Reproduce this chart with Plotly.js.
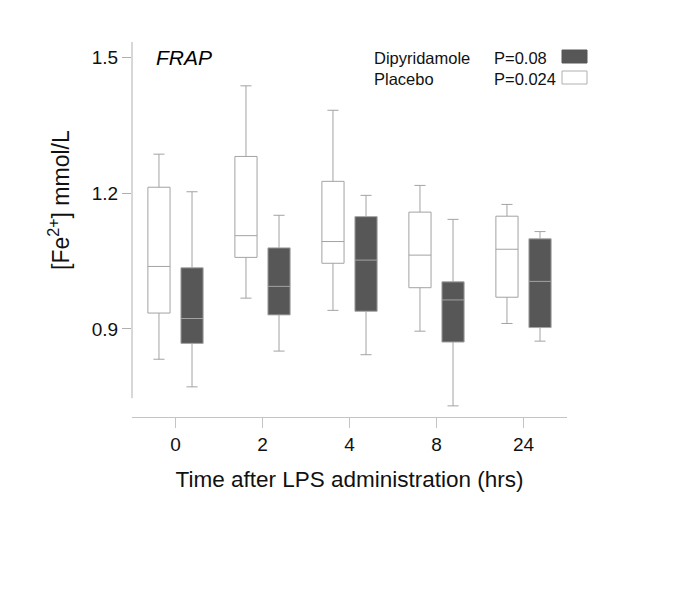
<!DOCTYPE html>
<html>
<head>
<meta charset="utf-8">
<script src="https://cdn.plot.ly/plotly-3.0.1.min.js"></script>
<style>html,body{margin:0;padding:0;background:#fff;}#chart{width:685px;height:597px;}</style>
</head>
<body>
<div id="chart"></div>
<script>
// Categories (time after LPS, hrs)
const timeLabels = ['0', '2', '4', '8', '24'];

// Placebo box statistics
const placeboLower  = [0.833, 0.968, 0.941, 0.895, 0.912];
const placeboQ1     = [0.935, 1.058, 1.045, 0.991, 0.970];
const placeboMedian = [1.038, 1.106, 1.093, 1.063, 1.076];
const placeboQ3     = [1.213, 1.281, 1.226, 1.158, 1.149];
const placeboUpper  = [1.286, 1.437, 1.383, 1.217, 1.175];

// Dipyridamole box statistics
const dipyLower  = [0.772, 0.851, 0.843, 0.730, 0.873];
const dipyQ1     = [0.868, 0.931, 0.939, 0.871, 0.903];
const dipyMedian = [0.923, 0.994, 1.052, 0.964, 1.005];
const dipyQ3     = [1.035, 1.079, 1.148, 1.004, 1.099];
const dipyUpper  = [1.203, 1.151, 1.195, 1.142, 1.115];

const yTicks = [0.9, 1.2, 1.5];
const legendNames = ['Dipyridamole', 'Placebo'];
const legendP = ['P=0.08', 'P=0.024'];

const FONT = 'Arial, "Liberation Sans", sans-serif';
const LINE = '#a3a3a3';
const DARK = '#575757';

const traces = [
  {
    type: 'box', name: 'Placebo', x: timeLabels,
    q1: placeboQ1, median: placeboMedian, q3: placeboQ3,
    lowerfence: placeboLower, upperfence: placeboUpper,
    fillcolor: '#ffffff', line: {color: LINE, width: 1},
    whiskerwidth: 0.5, boxpoints: false, showlegend: false, hoverinfo: 'skip'
  },
  {
    type: 'box', name: 'Dipyridamole', x: timeLabels,
    q1: dipyQ1, median: dipyMedian, q3: dipyQ3,
    lowerfence: dipyLower, upperfence: dipyUpper,
    fillcolor: DARK, line: {color: LINE, width: 1},
    whiskerwidth: 0.5, boxpoints: false, showlegend: false, hoverinfo: 'skip'
  }
];

const yTop = 1.5338, yBottom = 0.7054, yLineBottom = 0.747;

const layout = {
  width: 685, height: 597,
  margin: {l: 132, r: 118, t: 42, b: 180},
  paper_bgcolor: '#fff', plot_bgcolor: '#fff',
  boxmode: 'group', boxgap: 0.24, boxgroupgap: 0.33,
  font: {family: FONT, color: '#000'},
  xaxis: {
    type: 'category', range: [-0.5, 4.5],
    showline: true, linecolor: '#c4c4c4', linewidth: 1,
    ticks: 'outside', ticklen: 10, tickcolor: '#c4c4c4', tickwidth: 1,
    tickfont: {size: 19, family: FONT, color: '#111'},
    showgrid: false, zeroline: false, fixedrange: true,
    title: {text: 'Time after LPS administration (hrs)', font: {size: 22.5, family: FONT, color: '#111'}, standoff: 17}
  },
  yaxis: {
    range: [yBottom, yTop], tickvals: yTicks, ticktext: yTicks.map(v => v.toFixed(1)),
    showline: false, showgrid: false, zeroline: false,
    ticks: 'outside', ticklen: 9, tickcolor: '#b0b0b0', tickwidth: 1,
    tickfont: {size: 19, family: FONT, color: '#111'}, fixedrange: true
  },
  shapes: [
    {type: 'line', xref: 'paper', yref: 'y', x0: 0, x1: 0, y0: yLineBottom, y1: yTop,
     line: {color: '#b0b0b0', width: 1}},
    {type: 'rect', xref: 'paper', yref: 'paper', x0: 430/435, x1: 455/435,
     y0: 1 - (63 - 42)/375, y1: 1 - (50 - 42)/375,
     fillcolor: DARK, line: {color: DARK, width: 1}},
    {type: 'rect', xref: 'paper', yref: 'paper', x0: 430/435, x1: 455/435,
     y0: 1 - (84 - 42)/375, y1: 1 - (71 - 42)/375,
     fillcolor: '#fff', line: {color: '#b0b0b0', width: 1}}
  ],
  annotations: [
    {text: 'FRAP', xref: 'paper', yref: 'paper', x: (154 - 132)/435, y: 1 - (58 - 42)/375,
     xanchor: 'left', yanchor: 'middle', showarrow: false,
     font: {size: 21, family: FONT, color: '#000', style: 'italic'}},
    {text: '[Fe<sup>2+</sup>] mmol/L', xref: 'paper', yref: 'paper', x: (59 - 132)/435, y: 1 - (200 - 42)/375,
     xanchor: 'center', yanchor: 'middle', showarrow: false, textangle: -90,
     font: {size: 23, family: FONT, color: '#111'}},
    {text: legendNames[0], xref: 'paper', yref: 'paper', x: (372 - 132)/435, y: 1 - (58 - 42)/375,
     xanchor: 'left', yanchor: 'middle', showarrow: false, font: {size: 16.5, family: FONT, color: '#111'}},
    {text: legendNames[1], xref: 'paper', yref: 'paper', x: (372 - 132)/435, y: 1 - (79 - 42)/375,
     xanchor: 'left', yanchor: 'middle', showarrow: false, font: {size: 16.5, family: FONT, color: '#111'}},
    {text: legendP[0], xref: 'paper', yref: 'paper', x: (492 - 132)/435, y: 1 - (58 - 42)/375,
     xanchor: 'left', yanchor: 'middle', showarrow: false, font: {size: 16.5, family: FONT, color: '#111'}},
    {text: legendP[1], xref: 'paper', yref: 'paper', x: (492 - 132)/435, y: 1 - (79 - 42)/375,
     xanchor: 'left', yanchor: 'middle', showarrow: false, font: {size: 16.5, family: FONT, color: '#111'}}
  ]
};

Plotly.newPlot('chart', traces, layout, {staticPlot: true, displayModeBar: false});
</script>
</body>
</html>
